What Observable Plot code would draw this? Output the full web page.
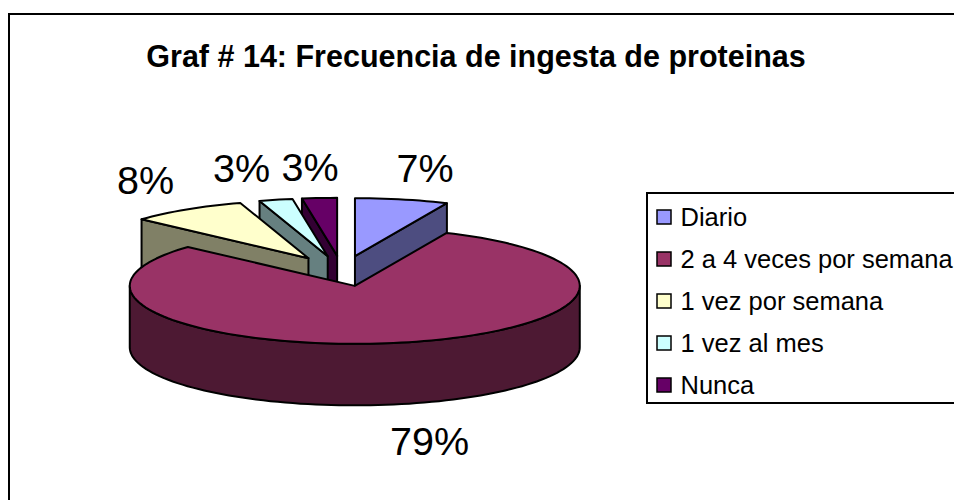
<!DOCTYPE html>
<html><head><meta charset="utf-8">
<script src="https://cdn.jsdelivr.net/npm/d3@7"></script>
<script src="https://cdn.jsdelivr.net/npm/@observablehq/plot@0.6"></script>
<style>html,body{margin:0;padding:0;background:#fff}svg{display:block}</style>
</head><body><div id="chart"></div>
<script>
const categories = ["Diario","2 a 4 veces por semana","1 vez por semana","1 vez al mes","Nunca"];
const values = [6.7,80.0,8.4,2.4,2.5];
const labels = ["7%","79%","8%","3%","3%"];
const colors = ["#9999FF","#993366","#FFFFCC","#CCFFFF","#660066"];
const sideColors = ["#4D4D80","#4D1933","#808066","#668080","#330033"];
const title = "Graf # 14: Frecuencia de ingesta de proteinas";

// pie layout
const cx=341.5, cy=270.5, rx=225, ry=58, depth=61.5, explode=62, k=0.245;
const total=d3.sum(values);
let acc=0;
const slices=values.map((v,i)=>{
  const a0=acc/total*360; acc+=v; const a1=acc/total*360; const mid=(a0+a1)/2, r=mid*Math.PI/180;
  return {i,a0,a1,mid,ax:cx+explode*Math.sin(r),ay:cy-explode*k*Math.cos(r)};
});
const pt=(s,a,dz=0)=>{const r=a*Math.PI/180;return {x:s.ax+rx*Math.sin(r),y:s.ay-ry*Math.cos(r)+dz};};
const arc=(s,a0,a1,dz=0)=>{const n=Math.max(2,Math.ceil((a1-a0)/2));return d3.range(n+1).map(j=>pt(s,a0+(a1-a0)*j/n,dz));};

const marks=[];
const poly=(pts,fill)=>marks.push(Plot.line([...pts,pts[0]],{x:"x",y:"y",fill,stroke:"#000",strokeWidth:2,strokeLinejoin:"round",curve:"linear"}));
// frame
marks.push(Plot.rect([0],{x1:()=>9,x2:()=>1000,y1:()=>14,y2:()=>540,fill:"#fff",stroke:"#000",strokeWidth:2}));
for(const i of [4,3,2,0,1]){
  const s=slices[i];
  const apex={x:s.ax,y:s.ay};
  if(s.a1-s.a0<180){
    const a=Math.sin(s.mid*Math.PI/180)<0?s.a0:s.a1;
    const p=pt(s,a);
    poly([apex,p,{x:p.x,y:p.y+depth},{x:apex.x,y:apex.y+depth}],sideColors[i]);
  }
  const r0=Math.max(s.a0,90), r1=Math.min(s.a1,270);
  if(r1>r0) poly([...arc(s,r0,r1),...arc(s,r0,r1,depth).reverse()],sideColors[i]);
  poly([apex,...arc(s,s.a0,s.a1)],colors[i]);
}
// percent labels
const labelPos=[[424.5,169],[429,442],[145,181],[241,169],[309.5,168]];
marks.push(Plot.text(labels,{x:(d,i)=>labelPos[i][0],y:(d,i)=>labelPos[i][1],text:d=>d,fontSize:39.5,fontFamily:"Liberation Sans",fill:"#000"}));
// title
marks.push(Plot.text([title],{x:()=>475.5,y:()=>57,text:d=>d,fontSize:30.5,fontWeight:"bold",fontFamily:"Liberation Sans",fill:"#000"}));
// legend
const lx=647, ly=193, lstep=42, lfirst=217;
marks.push(Plot.rect([0],{x1:()=>lx,x2:()=>1000,y1:()=>ly,y2:()=>403,fill:"#fff",stroke:"#000",strokeWidth:2}));
marks.push(Plot.rect(categories,{x1:()=>657,x2:()=>671,y1:(d,i)=>lfirst+i*lstep-7,y2:(d,i)=>lfirst+i*lstep+7,fill:(d,i)=>colors[i],stroke:"#000",strokeWidth:1.5}));
marks.push(Plot.text(categories,{x:()=>680,y:(d,i)=>lfirst+i*lstep,text:d=>d,textAnchor:"start",fontSize:25.5,fontFamily:"Liberation Sans",fill:"#000"}));

const chart=Plot.plot({width:954,height:500,margin:0,
  x:{domain:[0,954],range:[0,954],axis:null},
  y:{domain:[0,500],range:[0,500],axis:null},
  color:{type:"identity"},
  marks});
document.getElementById("chart").append(chart);
</script></body></html>
